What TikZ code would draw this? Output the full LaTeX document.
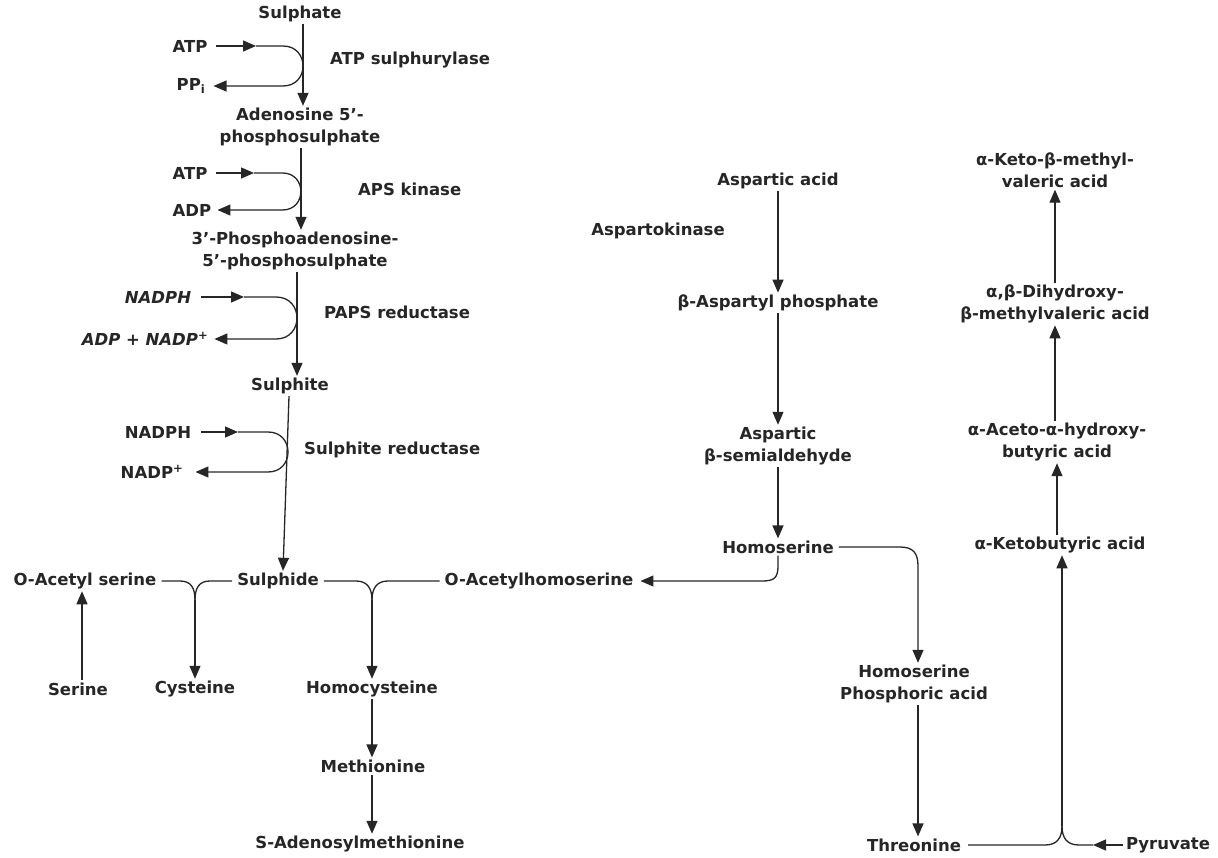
\documentclass[tikz,border=0pt]{standalone}
\usepackage{fontspec}
\setmainfont{DejaVu Sans}
\usetikzlibrary{arrows.meta}
\begin{document}
\begin{tikzpicture}[x=1pt,y=-1pt,
  font=\fontsize{16.5}{22}\selectfont\bfseries,
  every node/.style={text=black!85, inner sep=2pt, align=center},
  it/.style={font=\fontsize{16.5}{22}\selectfont\bfseries\itshape},
  ln/.style={line width=1.3pt, draw=black!85},
  arr/.style={ln, -{Triangle[length=13pt,width=11pt]}},
]
\useasboundingbox[fill=white] (0,0) rectangle (1218,858);

% ---------- sulphur assimilation column ----------
\node (sulphate) at (300,14) {Sulphate};
\node (atp1) at (190,46) {ATP};
\node (ppi) at (191,86) {PP\textsubscript{i}};
\node[anchor=west] (enz1) at (328,60) {ATP sulphurylase};
\node (aps) at (300,127) {Adenosine 5'-\\phosphosulphate};
\node (atp2) at (190,173) {ATP};
\node (adp) at (192,210) {ADP};
\node[anchor=west] (enz2) at (356,189) {APS kinase};
\node (paps) at (295,251) {3'-Phosphoadenosine-\\5'-phosphosulphate};
\node[it] (nadph1) at (158,297) {NADPH};
\node[it] (adpnadp) at (145,339) {ADP + NADP\textsuperscript{+}};
\node[anchor=west] (enz3) at (322,312) {PAPS reductase};
\node (sulphite) at (290,386) {Sulphite};
\node (nadph2) at (158,432) {NADPH};
\node (nadp) at (152,472) {NADP\textsuperscript{+}};
\node[anchor=west] (enz4) at (302,450) {Sulphite reductase};
\node (sulphide) at (278,581) {Sulphide};
\node (oas) at (85,581) {O-Acetyl serine};
\node (oah) at (539,581) {O-Acetylhomoserine};
\node (serine) at (78,689) {Serine};
\node (cysteine) at (195,689) {Cysteine};
\node (homocys) at (372,689) {Homocysteine};
\node (methionine) at (373,766) {Methionine};
\node (sam) at (360,844) {S-Adenosylmethionine};

% ---------- aspartate column ----------
\node (asp) at (778,181) {Aspartic acid};
\node (aspk) at (658,231) {Aspartokinase};
\node (bap) at (778,303) {β-Aspartyl phosphate};
\node (asa) at (778,446) {Aspartic\\β-semialdehyde};
\node (homoser) at (778,547) {Homoserine};
\node (hsp) at (914,684) {Homoserine\\Phosphoric acid};
\node (thr) at (914,845) {Threonine};
\node (pyr) at (1168,845) {Pyruvate};

% ---------- isoleucine column ----------
\node (akb) at (1060,545) {α-Ketobutyric acid};
\node (aah) at (1057,442) {α-Aceto-α-hydroxy-\\butyric acid};
\node (dhm) at (1055,304) {α,β-Dihydroxy-\\β-methylvaleric acid};
\node (kmv) at (1055,170) {α-Keto-β-methyl-\\valeric acid};

% vertical guide coordinates
\coordinate (v1) at (303,0);
\coordinate (v2) at (301,0);
\coordinate (v3) at (297,0);
\coordinate (vh) at (918,0);
\coordinate (vk) at (1062,0);
\coordinate (vs) at (82,0);

% main sulphur chain
\draw[arr] (sulphate.south -| v1) -- (aps.north -| v1);
\draw[arr] (aps.south -| v2) -- (paps.north -| v2);
\draw[arr] (paps.south -| v3) -- (sulphite.north -| v3);
\draw[arr] ([xshift=-1pt]sulphite.south) -- ([xshift=5pt]sulphide.north);

% cofactor loops
\coordinate (m1) at (256,46);
\draw[arr] ([xshift=6pt]atp1.east) -- (m1);
\draw[arr] (m1) -- (283,46) .. controls (309.7,46) and (309.7,86) .. (283,86) -- ([xshift=6pt]ppi.east);
\coordinate (m2) at (254,173);
\draw[arr] ([xshift=6pt]atp2.east) -- (m2);
\draw[arr] (m2) -- (282.5,173) .. controls (307,173) and (307,210) .. (282.5,210) -- ([xshift=4pt]adp.east);
\coordinate (m3) at (244,297);
\draw[arr] ([xshift=8pt]nadph1.east) -- (m3);
\draw[arr] (m3) -- (276,297) .. controls (304,297) and (304,339) .. (276,339) -- ([xshift=4pt]adpnadp.east);
\coordinate (m4) at (238,432);
\draw[arr] ([xshift=8pt]nadph2.east) -- (m4);
\draw[arr] (m4) -- (268,432) .. controls (294.7,432) and (294.7,472) .. (268,472) -- ([xshift=10pt]nadp.east);

% junction 1: O-acetyl serine + sulphide -> cysteine
\coordinate (j1) at (195,600);
\draw[ln] ([xshift=3pt]oas.east) -- (180,581) .. controls (191,581) and (195,588) .. (j1);
\draw[ln] ([xshift=-3pt]sulphide.west) -- (210,581) .. controls (199,581) and (195,588) .. (j1);
\draw[arr] (j1) -- (cysteine.north);
\draw[arr] (serine.north -| vs) -- (oas.south -| vs);

% junction 2: sulphide + O-acetylhomoserine -> homocysteine
\coordinate (j2) at (372,600);
\draw[ln] ([xshift=3pt]sulphide.east) -- (356,581) .. controls (367,581) and (372,588) .. (j2);
\draw[ln] ([xshift=-3pt]oah.west) -- (388,581) .. controls (377,581) and (372,588) .. (j2);
\draw[arr] (j2) -- (homocys.north);
\draw[arr] (homocys.south) -- (methionine.north -| homocys.south);
\draw[arr] (methionine.south -| homocys.south) -- (sam.north -| homocys.south);

% aspartate chain
\draw[arr] (asp.south) -- (bap.north);
\draw[arr] (bap.south) -- (asa.north);
\draw[arr] (asa.south) -- (homoser.north);
\draw[arr] (homoser.south) -- (778,566) .. controls (778,578) and (774,581) .. (762,581) -- ([xshift=5pt]oah.east);
\draw[arr] ([xshift=3pt]homoser.east) -- (900,547) .. controls (913,547) and (918,553) .. (918,566) -- (hsp.north -| vh);
\draw[arr] (hsp.south -| vh) -- (thr.north -| vh);

% threonine + pyruvate -> alpha-ketobutyrate
\coordinate (j3) at (1062,826);
\coordinate (m5) at (1093,845);
\draw[ln] ([xshift=5pt]thr.east) -- (1045,845) .. controls (1057,845) and (1062,838) .. (j3);
\draw[arr] ([xshift=-1pt]pyr.west) -- (m5);
\draw[ln] (m5) -- (1079,845) .. controls (1067,845) and (1062,838) .. (j3);
\draw[arr] (j3) -- (akb.south -| vk);

% isoleucine branch
\draw[arr] (akb.north -| aah.south) -- (aah.south);
\draw[arr] (aah.north -| dhm.south) -- (dhm.south);
\draw[arr] (dhm.north -| kmv.south) -- (kmv.south);
\end{tikzpicture}
\end{document}
